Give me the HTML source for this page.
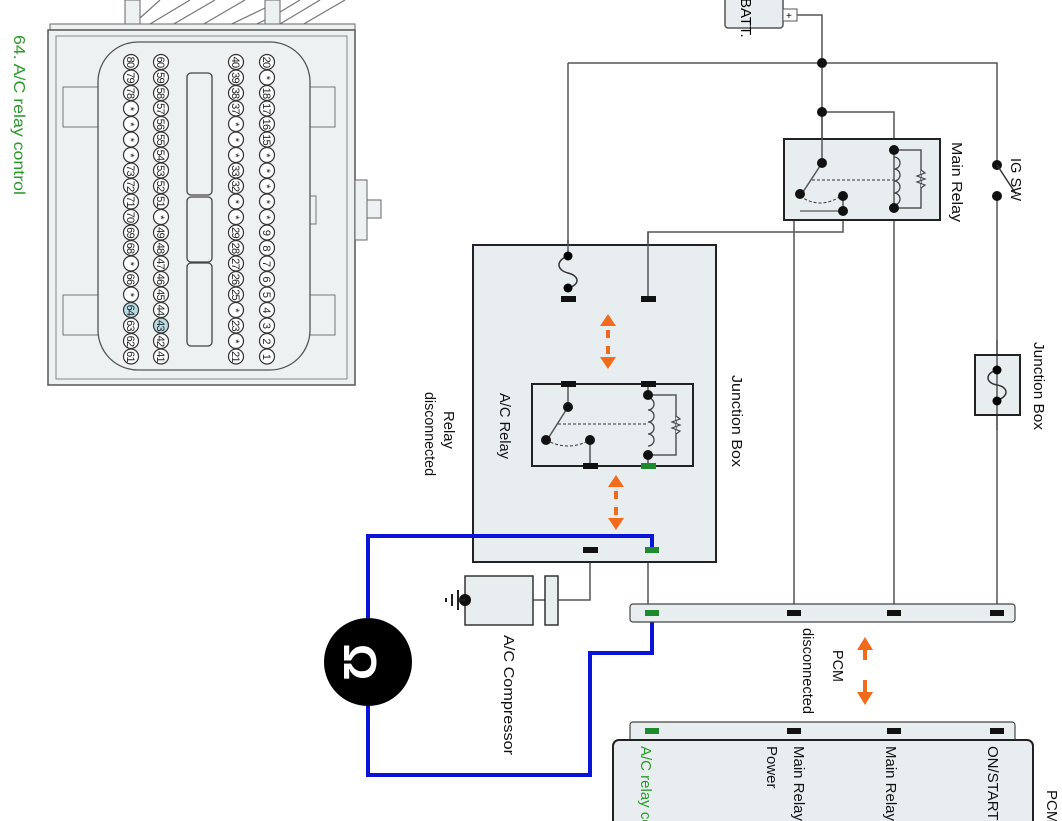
<!DOCTYPE html>
<html><head><meta charset="utf-8"><style>
html,body{margin:0;padding:0;background:#fff;}
svg{display:block;font-family:"Liberation Sans",sans-serif;}
.w{stroke:#555;stroke-width:1.5;fill:none}
.pin circle{fill:#fff;stroke:#333;stroke-width:1.2}
.pin text{font-size:11px;text-anchor:middle;fill:#222;letter-spacing:-0.8px}
.t{font-size:15px;fill:#111}
</style></head><body>
<svg width="1062" height="821" viewBox="0 0 1062 821" xmlns="http://www.w3.org/2000/svg">
<!-- connector -->
<rect x="125" y="0" width="15" height="36" fill="#eef1f2" stroke="#666"/>
<rect x="265" y="0" width="15" height="36" fill="#eef1f2" stroke="#666"/>
<path d="M140 18 L160 0 M140 30 L190 0 M160 32 L215 0 M190 32 L245 0 M215 32 L265 8 M240 32 L265 20 M280 12 L300 0 M280 24 L320 0 M290 32 L345 0" stroke="#777" stroke-width="1.2"/>
<rect x="50" y="24" width="305" height="8" fill="#eef1f2" stroke="#666"/>
<rect x="48" y="30" width="307" height="355" fill="#eef1f2" stroke="#555" stroke-width="1.5"/>
<rect x="56" y="36" width="291" height="343" fill="none" stroke="#888"/>
<rect x="63" y="87" width="35" height="40" fill="none" stroke="#777"/>
<rect x="63" y="295" width="35" height="40" fill="none" stroke="#777"/>
<rect x="305" y="87" width="30" height="40" fill="none" stroke="#777"/>
<rect x="305" y="295" width="30" height="40" fill="none" stroke="#777"/>
<rect x="355" y="180" width="12" height="60" fill="#eef1f2" stroke="#666"/>
<rect x="367" y="200" width="14" height="18" fill="#eef1f2" stroke="#666"/>
<rect x="304" y="196" width="12" height="28" fill="none" stroke="#777"/>
<rect x="98" y="42" width="212" height="328" rx="40" fill="#eef1f2" stroke="#555" stroke-width="1.3"/>
<rect x="187" y="73" width="25" height="122" rx="4" fill="#eef1f2" stroke="#444" stroke-width="1.3"/>
<rect x="187" y="197" width="25" height="65" rx="4" fill="#eef1f2" stroke="#444" stroke-width="1.3"/>
<rect x="187" y="263" width="25" height="83" rx="4" fill="#eef1f2" stroke="#444" stroke-width="1.3"/>
<g class="pin" transform="translate(131,0) rotate(90)">
<circle cx="62" cy="0" r="7.5"/><text x="62" y="4">80</text>
<circle cx="77.5" cy="0" r="7.5"/><text x="77.5" y="4">79</text>
<circle cx="93" cy="0" r="7.5"/><text x="93" y="4">78</text>
<circle cx="108.5" cy="0" r="7.5"/><text x="108.5" y="4">*</text>
<circle cx="124" cy="0" r="7.5"/><text x="124" y="4">*</text>
<circle cx="139.5" cy="0" r="7.5"/><text x="139.5" y="4">*</text>
<circle cx="155" cy="0" r="7.5"/><text x="155" y="4">*</text>
<circle cx="170.5" cy="0" r="7.5"/><text x="170.5" y="4">73</text>
<circle cx="186" cy="0" r="7.5"/><text x="186" y="4">72</text>
<circle cx="201.5" cy="0" r="7.5"/><text x="201.5" y="4">71</text>
<circle cx="217" cy="0" r="7.5"/><text x="217" y="4">70</text>
<circle cx="232.5" cy="0" r="7.5"/><text x="232.5" y="4">69</text>
<circle cx="248" cy="0" r="7.5"/><text x="248" y="4">68</text>
<circle cx="263.5" cy="0" r="7.5"/><text x="263.5" y="4">*</text>
<circle cx="279" cy="0" r="7.5"/><text x="279" y="4">66</text>
<circle cx="294.5" cy="0" r="7.5"/><text x="294.5" y="4">*</text>
<circle cx="310" cy="0" r="7.5" style="fill:#b9dbe4"/><text x="310" y="4">64</text>
<circle cx="325.5" cy="0" r="7.5"/><text x="325.5" y="4">63</text>
<circle cx="341" cy="0" r="7.5"/><text x="341" y="4">62</text>
<circle cx="356.5" cy="0" r="7.5"/><text x="356.5" y="4">61</text>
</g>
<g class="pin" transform="translate(161,0) rotate(90)">
<circle cx="62" cy="0" r="7.5"/><text x="62" y="4">60</text>
<circle cx="77.5" cy="0" r="7.5"/><text x="77.5" y="4">59</text>
<circle cx="93" cy="0" r="7.5"/><text x="93" y="4">58</text>
<circle cx="108.5" cy="0" r="7.5"/><text x="108.5" y="4">57</text>
<circle cx="124" cy="0" r="7.5"/><text x="124" y="4">56</text>
<circle cx="139.5" cy="0" r="7.5"/><text x="139.5" y="4">55</text>
<circle cx="155" cy="0" r="7.5"/><text x="155" y="4">54</text>
<circle cx="170.5" cy="0" r="7.5"/><text x="170.5" y="4">53</text>
<circle cx="186" cy="0" r="7.5"/><text x="186" y="4">52</text>
<circle cx="201.5" cy="0" r="7.5"/><text x="201.5" y="4">51</text>
<circle cx="217" cy="0" r="7.5"/><text x="217" y="4">*</text>
<circle cx="232.5" cy="0" r="7.5"/><text x="232.5" y="4">49</text>
<circle cx="248" cy="0" r="7.5"/><text x="248" y="4">48</text>
<circle cx="263.5" cy="0" r="7.5"/><text x="263.5" y="4">47</text>
<circle cx="279" cy="0" r="7.5"/><text x="279" y="4">46</text>
<circle cx="294.5" cy="0" r="7.5"/><text x="294.5" y="4">45</text>
<circle cx="310" cy="0" r="7.5"/><text x="310" y="4">44</text>
<circle cx="325.5" cy="0" r="7.5" style="fill:#b9dbe4"/><text x="325.5" y="4">43</text>
<circle cx="341" cy="0" r="7.5"/><text x="341" y="4">42</text>
<circle cx="356.5" cy="0" r="7.5"/><text x="356.5" y="4">41</text>
</g>
<g class="pin" transform="translate(236,0) rotate(90)">
<circle cx="62" cy="0" r="7.5"/><text x="62" y="4">40</text>
<circle cx="77.5" cy="0" r="7.5"/><text x="77.5" y="4">39</text>
<circle cx="93" cy="0" r="7.5"/><text x="93" y="4">38</text>
<circle cx="108.5" cy="0" r="7.5"/><text x="108.5" y="4">37</text>
<circle cx="124" cy="0" r="7.5"/><text x="124" y="4">*</text>
<circle cx="139.5" cy="0" r="7.5"/><text x="139.5" y="4">*</text>
<circle cx="155" cy="0" r="7.5"/><text x="155" y="4">*</text>
<circle cx="170.5" cy="0" r="7.5"/><text x="170.5" y="4">33</text>
<circle cx="186" cy="0" r="7.5"/><text x="186" y="4">32</text>
<circle cx="201.5" cy="0" r="7.5"/><text x="201.5" y="4">*</text>
<circle cx="217" cy="0" r="7.5"/><text x="217" y="4">*</text>
<circle cx="232.5" cy="0" r="7.5"/><text x="232.5" y="4">29</text>
<circle cx="248" cy="0" r="7.5"/><text x="248" y="4">28</text>
<circle cx="263.5" cy="0" r="7.5"/><text x="263.5" y="4">27</text>
<circle cx="279" cy="0" r="7.5"/><text x="279" y="4">26</text>
<circle cx="294.5" cy="0" r="7.5"/><text x="294.5" y="4">25</text>
<circle cx="310" cy="0" r="7.5"/><text x="310" y="4">*</text>
<circle cx="325.5" cy="0" r="7.5"/><text x="325.5" y="4">23</text>
<circle cx="341" cy="0" r="7.5"/><text x="341" y="4">*</text>
<circle cx="356.5" cy="0" r="7.5"/><text x="356.5" y="4">21</text>
</g>
<g class="pin" transform="translate(267,0) rotate(90)">
<circle cx="62" cy="0" r="7.5"/><text x="62" y="4">20</text>
<circle cx="77.5" cy="0" r="7.5"/><text x="77.5" y="4">*</text>
<circle cx="93" cy="0" r="7.5"/><text x="93" y="4">18</text>
<circle cx="108.5" cy="0" r="7.5"/><text x="108.5" y="4">17</text>
<circle cx="124" cy="0" r="7.5"/><text x="124" y="4">16</text>
<circle cx="139.5" cy="0" r="7.5"/><text x="139.5" y="4">15</text>
<circle cx="155" cy="0" r="7.5"/><text x="155" y="4">*</text>
<circle cx="170.5" cy="0" r="7.5"/><text x="170.5" y="4">*</text>
<circle cx="186" cy="0" r="7.5"/><text x="186" y="4">*</text>
<circle cx="201.5" cy="0" r="7.5"/><text x="201.5" y="4">*</text>
<circle cx="217" cy="0" r="7.5"/><text x="217" y="4">*</text>
<circle cx="232.5" cy="0" r="7.5"/><text x="232.5" y="4">9</text>
<circle cx="248" cy="0" r="7.5"/><text x="248" y="4">8</text>
<circle cx="263.5" cy="0" r="7.5"/><text x="263.5" y="4">7</text>
<circle cx="279" cy="0" r="7.5"/><text x="279" y="4">6</text>
<circle cx="294.5" cy="0" r="7.5"/><text x="294.5" y="4">5</text>
<circle cx="310" cy="0" r="7.5"/><text x="310" y="4">4</text>
<circle cx="325.5" cy="0" r="7.5"/><text x="325.5" y="4">3</text>
<circle cx="341" cy="0" r="7.5"/><text x="341" y="4">2</text>
<circle cx="356.5" cy="0" r="7.5"/><text x="356.5" y="4">1</text>
</g>
<text transform="translate(14,35) rotate(90)" font-size="16" fill="#2a9a2a" textLength="160" lengthAdjust="spacingAndGlyphs">64. A/C relay control</text>

<!-- wires -->
<path class="w" d="M797 15 H822 V220 M568 63 H997 V165 M997 196 V612 M568 63 V258 M822 112 H894 V150 M794 211 V612 M894 208 V612 M843 211 V232 H648 V298 M590 550 V600 H558 M533 600 H545 M648 550 V612"/>
<path class="w" d="M568 290 V299"/>
<!-- battery -->
<rect x="725" y="-4" width="58" height="32" rx="3" fill="#e8eef0" stroke="#555" stroke-width="1.5"/>
<text transform="translate(741,-2) rotate(90)" font-size="15">BATT.</text>
<rect x="783" y="9" width="14" height="12" fill="#fff" stroke="#555"/>
<text x="786" y="19" font-size="10">+</text>
<!-- main relay -->
<rect x="784" y="139" width="156" height="81" fill="#e8eef0" stroke="#222" stroke-width="2"/>
<path class="w" d="M822 112 V163 M894 150 V208 M894 150 H921 V208 H894 M822 163 L803 192 M843 196 V213"/>
<path d="M894 157 a6 6 0 0 1 0 12 a6 6 0 0 1 0 12 a6 6 0 0 1 0 12 a6 6 0 0 1 0 12" stroke="#444" stroke-width="1.3" fill="none"/>
<path d="M921 170 l4 3 -8 3 8 3 -8 3 8 3 -4 3" stroke="#444" stroke-width="1.2" fill="#e8eef0"/>
<path d="M812 180 H894" stroke="#333" stroke-dasharray="3,2"/>
<path d="M800 196 Q820 210 841 196" stroke="#333" stroke-dasharray="3,2" fill="none"/>
<path d="M800 211 H843" stroke="#555" stroke-width="1.2"/>
<g fill="#111"><circle cx="822" cy="63" r="5"/><circle cx="822" cy="112" r="5"/><circle cx="822" cy="163" r="5"/><circle cx="800" cy="194" r="5"/><circle cx="843" cy="196" r="5"/><circle cx="843" cy="211" r="5"/><circle cx="894" cy="150" r="5"/><circle cx="894" cy="208" r="5"/><circle cx="997" cy="165" r="5"/><circle cx="997" cy="196" r="5"/></g>
<path d="M997 165 L1016 194" stroke="#333" stroke-width="1.5"/>
<text transform="translate(952,142) rotate(90)" class="t" textLength="80" lengthAdjust="spacingAndGlyphs">Main Relay</text>
<text transform="translate(1011,158) rotate(90)" class="t" textLength="43" lengthAdjust="spacingAndGlyphs">IG SW</text>
<!-- small junction box -->
<rect x="975" y="355" width="45" height="60" fill="#e8eef0" stroke="#222" stroke-width="2"/>
<path d="M997 340 V430" class="w"/>
<path d="M997 370 C985 373 985 383 997 385 C1009 387 1009 397 997 400" stroke="#333" stroke-width="1.5" fill="none"/>
<circle cx="997" cy="370" r="4.5"/><circle cx="997" cy="401" r="4.5"/>
<rect x="975" y="355" width="45" height="60" fill="none" stroke="#222" stroke-width="2"/>
<text transform="translate(1034,342) rotate(90)" class="t" textLength="88" lengthAdjust="spacingAndGlyphs">Junction Box</text>
<!-- big junction box -->
<rect x="473" y="245" width="243" height="317" fill="#e8eef0" stroke="#222" stroke-width="2"/>
<path class="w" d="M568 240 V258 M648 232 V298"/>
<path d="M568 256 C556 260 556 270 568 273 C580 276 580 285 568 288" stroke="#333" stroke-width="1.5" fill="none"/>
<circle cx="568" cy="256" r="4.5"/><circle cx="568" cy="288" r="4.5"/>
<rect x="561" y="296" width="15" height="6" fill="#111"/><rect x="641" y="296" width="15" height="6" fill="#111"/>
<!-- orange arrows -->
<g stroke="#f26a1b" stroke-width="4" fill="#f26a1b">
<path d="M608 330 V338 M608 346 V354" fill="none"/><path d="M600 326 L608 314 L616 326 Z" stroke="none"/><path d="M600 357 L608 369 L616 357 Z" stroke="none"/>
<path d="M616 491 V499 M616 507 V515" fill="none"/><path d="M608 487 L616 475 L624 487 Z" stroke="none"/><path d="M608 518 L616 530 L624 518 Z" stroke="none"/>
<path d="M865 650 V660" fill="none"/><path d="M857 650 L865 637 L873 650 Z" stroke="none"/>
<path d="M865 680 V692" fill="none"/><path d="M857 692 L865 705 L873 692 Z" stroke="none"/>
</g>
<!-- A/C relay -->
<rect x="532" y="384" width="161" height="82" fill="#e8eef0" stroke="#222" stroke-width="2"/>
<path class="w" d="M568 384 V407 M590 440 V466 M648 384 V395 M648 455 V466 M648 395 H676 V455 H648 M568 407 L549 437"/>
<path d="M648 398 a6 6 0 0 1 0 12 a6 6 0 0 1 0 12 a6 6 0 0 1 0 12 a6 6 0 0 1 0 12" stroke="#444" stroke-width="1.3" fill="none"/>
<path d="M676 416 l4 3 -8 3 8 3 -8 3 8 3 -4 3" stroke="#444" stroke-width="1.2" fill="#e8eef0"/>
<path d="M558 424 H648" stroke="#333" stroke-dasharray="3,2"/>
<path d="M546 440 Q568 452 590 440" stroke="#333" stroke-dasharray="3,2" fill="none"/>
<g fill="#111"><circle cx="568" cy="407" r="5"/><circle cx="546" cy="440" r="5"/><circle cx="590" cy="440" r="5"/><circle cx="648" cy="395" r="5"/><circle cx="648" cy="455" r="5"/></g>
<rect x="561" y="381" width="15" height="6" fill="#111"/><rect x="641" y="381" width="15" height="6" fill="#111"/>
<rect x="583" y="463" width="15" height="6" fill="#111"/><rect x="641" y="463" width="15" height="6" fill="#1e8a2e"/>
<text transform="translate(500,393) rotate(90)" class="t" textLength="66" lengthAdjust="spacingAndGlyphs">A/C Relay</text>
<text transform="translate(732,375) rotate(90)" class="t" textLength="92" lengthAdjust="spacingAndGlyphs">Junction Box</text>
<text transform="translate(444,411) rotate(90)" class="t" textLength="38" lengthAdjust="spacingAndGlyphs">Relay</text>
<text transform="translate(425,392) rotate(90)" class="t" textLength="84" lengthAdjust="spacingAndGlyphs">disconnected</text>
<rect x="583" y="547" width="15" height="6" fill="#111"/>
<!-- compressor -->
<rect x="465" y="576" width="68" height="49" fill="#e8eef0" stroke="#333" stroke-width="1.5"/>
<rect x="545" y="576" width="13" height="49" fill="#e8eef0" stroke="#333" stroke-width="1.5"/>
<circle cx="465" cy="600" r="6" fill="#111"/>
<path d="M458 590 V610 M452 594 V606 M446 598 V602" stroke="#222" stroke-width="2"/>
<path d="M458 600 H465" stroke="#222" stroke-width="1.5"/>
<text transform="translate(504,635) rotate(90)" class="t" textLength="120" lengthAdjust="spacingAndGlyphs">A/C Compressor</text>
<!-- blue wire -->
<path d="M652 550 V536 H368 V775 H590 V653 H652 V612" stroke="#0a14d8" stroke-width="4" fill="none"/>
<rect x="645" y="547" width="14" height="6" fill="#1e8a2e"/>
<circle cx="368" cy="662" r="44" fill="#000"/>
<text transform="translate(356,662) rotate(90)" font-size="46" font-weight="bold" fill="#fff" text-anchor="middle" dominant-baseline="middle">Ω</text>
<!-- connector strip -->
<rect x="630" y="604" width="385" height="18" rx="3" fill="#e8eef0" stroke="#444" stroke-width="1.2"/>
<rect x="645" y="610" width="14" height="6" fill="#1e8a2e"/>
<rect x="787" y="610" width="14" height="6" fill="#111"/><rect x="887" y="610" width="14" height="6" fill="#111"/><rect x="990" y="610" width="14" height="6" fill="#111"/>
<text transform="translate(833,650) rotate(90)" class="t" textLength="32" lengthAdjust="spacingAndGlyphs">PCM</text>
<text transform="translate(803,628) rotate(90)" class="t" textLength="86" lengthAdjust="spacingAndGlyphs">disconnected</text>
<!-- PCM -->
<rect x="630" y="722" width="385" height="30" rx="3" fill="#e8eef0" stroke="#444" stroke-width="1.2"/>
<rect x="613" y="740" width="420" height="100" rx="6" fill="#e8eef0" stroke="#222" stroke-width="2"/>
<rect x="645" y="728" width="14" height="6" fill="#1e8a2e"/>
<rect x="787" y="728" width="14" height="6" fill="#111"/><rect x="887" y="728" width="14" height="6" fill="#111"/><rect x="990" y="728" width="14" height="6" fill="#111"/>
<text transform="translate(641,746) rotate(90)" class="t" style="fill:#2a9a2a">A/C relay control</text>
<text transform="translate(794,746) rotate(90)" class="t">Main Relay</text>
<text transform="translate(767,746) rotate(90)" class="t">Power</text>
<text transform="translate(886,746) rotate(90)" class="t">Main Relay</text>
<text transform="translate(988,746) rotate(90)" class="t">ON/START</text>
<text transform="translate(1047,790) rotate(90)" class="t">PCM</text>
</svg>
</body></html>
